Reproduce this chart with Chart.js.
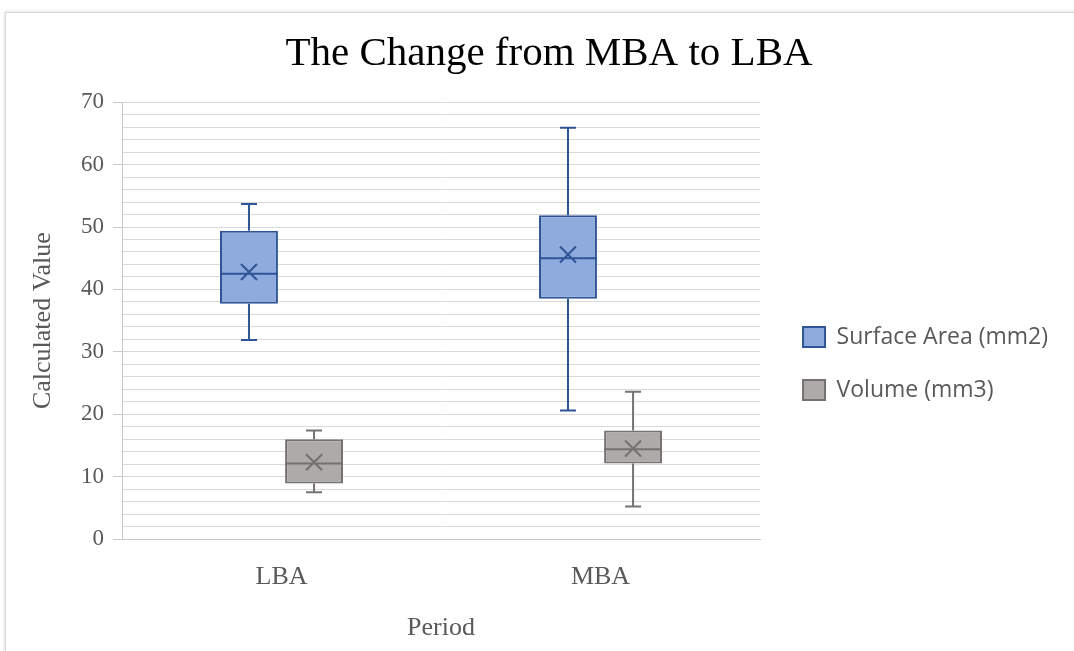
<!DOCTYPE html>
<html lang="en">
<head>
    <meta charset="UTF-8">
    <meta name="viewport" content="width=device-width, initial-scale=1.0">
    <title>The Change from MBA to LBA</title>
    <script src="https://cdn.jsdelivr.net/npm/chart.js"></script>
    <style>
        html, body { margin: 0; padding: 0; background: #fff; overflow: hidden; }
        #frame {
            position: absolute; left: 5px; top: 12px;
            width: 1120px; height: 700px;
            border: 1px solid #d9d9d9;
            box-shadow: 0 0 4px rgba(0, 0, 0, 0.18);
        }
        #chart-container { position: absolute; left: 0; top: 0; width: 1074px; height: 651px; }
    </style>
</head>
<body>

<div id="frame"></div>
<div id="chart-container">
    <canvas id="boxChart"></canvas>
</div>

<script>
    const periods = ['LBA', 'MBA'];

    // Surface area (mm2) per period: whiskers, quartiles, median and mean
    const surfaceMin    = [31.9, 20.6];
    const surfaceQ1     = [37.7, 38.5];
    const surfaceMedian = [42.5, 45.0];
    const surfaceQ3     = [49.4, 51.9];
    const surfaceMax    = [53.7, 65.9];
    const surfaceMean   = [42.8, 45.6];

    // Volume (mm3) per period
    const volumeMin    = [7.5, 5.2];
    const volumeQ1     = [8.9, 12.1];
    const volumeMedian = [12.1, 14.4];
    const volumeQ3     = [16.0, 17.4];
    const volumeMax    = [17.4, 23.6];
    const volumeMean   = [12.3, 14.5];

    const yMin = 0;
    const yMax = 70;
    const yMinorStep = 2;
    const yMajorStep = 10;

    const serif = "'Liberation Serif', 'Times New Roman', serif";
    const textGrey = '#595959';
    const gridGrey = '#d9d9d9';
    const axisGrey = '#c8c8c8';

    // whiskers, median line and mean cross on top of the floating bars
    const whiskers = {
        id: 'whiskers',
        afterDatasetsDraw(chart) {
            const ctx = chart.ctx;
            const y = chart.scales.y;
            chart.data.datasets.forEach((ds, di) => {
                const meta = chart.getDatasetMeta(di);
                if (meta.hidden) return;
                const s = ds.stats;
                meta.data.forEach((bar, i) => {
                    const { x, width } = bar.getProps(['x', 'width'], true);
                    const cap = 8;
                    const r = 8;
                    const pMin = y.getPixelForValue(s.min[i]);
                    const pQ1 = y.getPixelForValue(s.q1[i]);
                    const pMed = y.getPixelForValue(s.median[i]);
                    const pQ3 = y.getPixelForValue(s.q3[i]);
                    const pMax = y.getPixelForValue(s.max[i]);
                    const pMean = y.getPixelForValue(s.mean[i]);

                    ctx.save();
                    ctx.strokeStyle = ds.borderColor;
                    ctx.lineWidth = 2;
                    ctx.beginPath();
                    ctx.moveTo(x, pQ3); ctx.lineTo(x, pMax);
                    ctx.moveTo(x - cap, pMax); ctx.lineTo(x + cap, pMax);
                    ctx.moveTo(x, pQ1); ctx.lineTo(x, pMin);
                    ctx.moveTo(x - cap, pMin); ctx.lineTo(x + cap, pMin);
                    ctx.moveTo(x - width / 2, pMed); ctx.lineTo(x + width / 2, pMed);
                    ctx.moveTo(x - r, pMean - r); ctx.lineTo(x + r, pMean + r);
                    ctx.moveTo(x - r, pMean + r); ctx.lineTo(x + r, pMean - r);
                    ctx.stroke();
                    ctx.restore();
                });
            });
        }
    };

    // more room between plot and legend, legend a bit lower
    const legendSpacing = {
        id: 'legendSpacing',
        beforeInit(chart) {
            const legend = chart.legend;
            const fit = legend.fit;
            legend.fit = function () {
                fit.call(this);
                this.width += 29;
            };
        },
        afterLayout(chart) {
            const legend = chart.legend;
            legend.left += 13;
            legend.right += 13;
            legend.top += 38;
            legend.bottom += 38;
        }
    };

    const ctx = document.getElementById('boxChart').getContext('2d');

    new Chart(ctx, {
        type: 'bar',
        data: {
            labels: periods,
            datasets: [
                {
                    label: 'Surface Area (mm2)',
                    data: periods.map((p, i) => [surfaceQ1[i], surfaceQ3[i]]),
                    stats: { min: surfaceMin, q1: surfaceQ1, median: surfaceMedian, q3: surfaceQ3, max: surfaceMax, mean: surfaceMean },
                    backgroundColor: '#8FAADC',
                    borderColor: '#2F5597',
                    borderWidth: 2,
                    borderSkipped: false
                },
                {
                    label: 'Volume (mm3)',
                    data: periods.map((p, i) => [volumeQ1[i], volumeQ3[i]]),
                    stats: { min: volumeMin, q1: volumeQ1, median: volumeMedian, q3: volumeQ3, max: volumeMax, mean: volumeMean },
                    backgroundColor: '#AEAAAA',
                    borderColor: '#767171',
                    borderWidth: 2,
                    borderSkipped: false
                }
            ]
        },
        options: {
            responsive: true,
            maintainAspectRatio: false,
            animation: false,
            barPercentage: 0.89,
            categoryPercentage: 0.408,
            layout: { padding: { left: 24, right: 0, top: 0, bottom: 0 } },
            plugins: {
                title: {
                    display: true,
                    text: 'The Change from MBA to LBA',
                    color: '#000',
                    font: { family: serif, size: 41, weight: 'normal' },
                    padding: { top: 30, bottom: 23 }
                },
                legend: {
                    position: 'right',
                    maxWidth: 400,
                    labels: {
                        boxWidth: 22,
                        boxHeight: 20,
                        padding: 30,
                        color: textGrey,
                        font: { family: "'Open Sans', sans-serif", size: 23 }
                    }
                },
                tooltip: { enabled: false }
            },
            scales: {
                x: {
                    grid: { display: false, drawTicks: false },
                    border: { display: true, color: axisGrey, width: 1 },
                    ticks: { color: textGrey, font: { family: serif, size: 26 }, padding: 22.4 },
                    title: {
                        display: true, text: 'Period', color: textGrey,
                        font: { family: serif, size: 26 },
                        padding: { top: -2.6, bottom: 7.4 }
                    }
                },
                y: {
                    min: yMin,
                    max: yMax,
                    grid: {
                        color: gridGrey,
                        lineWidth: 1,
                        tickLength: 9,
                        tickColor: (c) => (c.tick && c.tick.value % yMajorStep === 0 ? axisGrey : 'rgba(0,0,0,0)')
                    },
                    border: { display: true, color: axisGrey, width: 1 },
                    ticks: {
                        stepSize: yMinorStep,
                        autoSkip: false,
                        padding: 9,
                        color: textGrey,
                        font: { family: serif, size: 23 },
                        callback: (v) => (v % yMajorStep === 0 ? v : '')
                    },
                    title: {
                        display: true, text: 'Calculated Value', color: textGrey,
                        font: { family: serif, size: 26 },
                        padding: { top: 3.4, bottom: 13.4 }
                    }
                }
            }
        },
        plugins: [whiskers, legendSpacing]
    });
</script>

</body>
</html>
